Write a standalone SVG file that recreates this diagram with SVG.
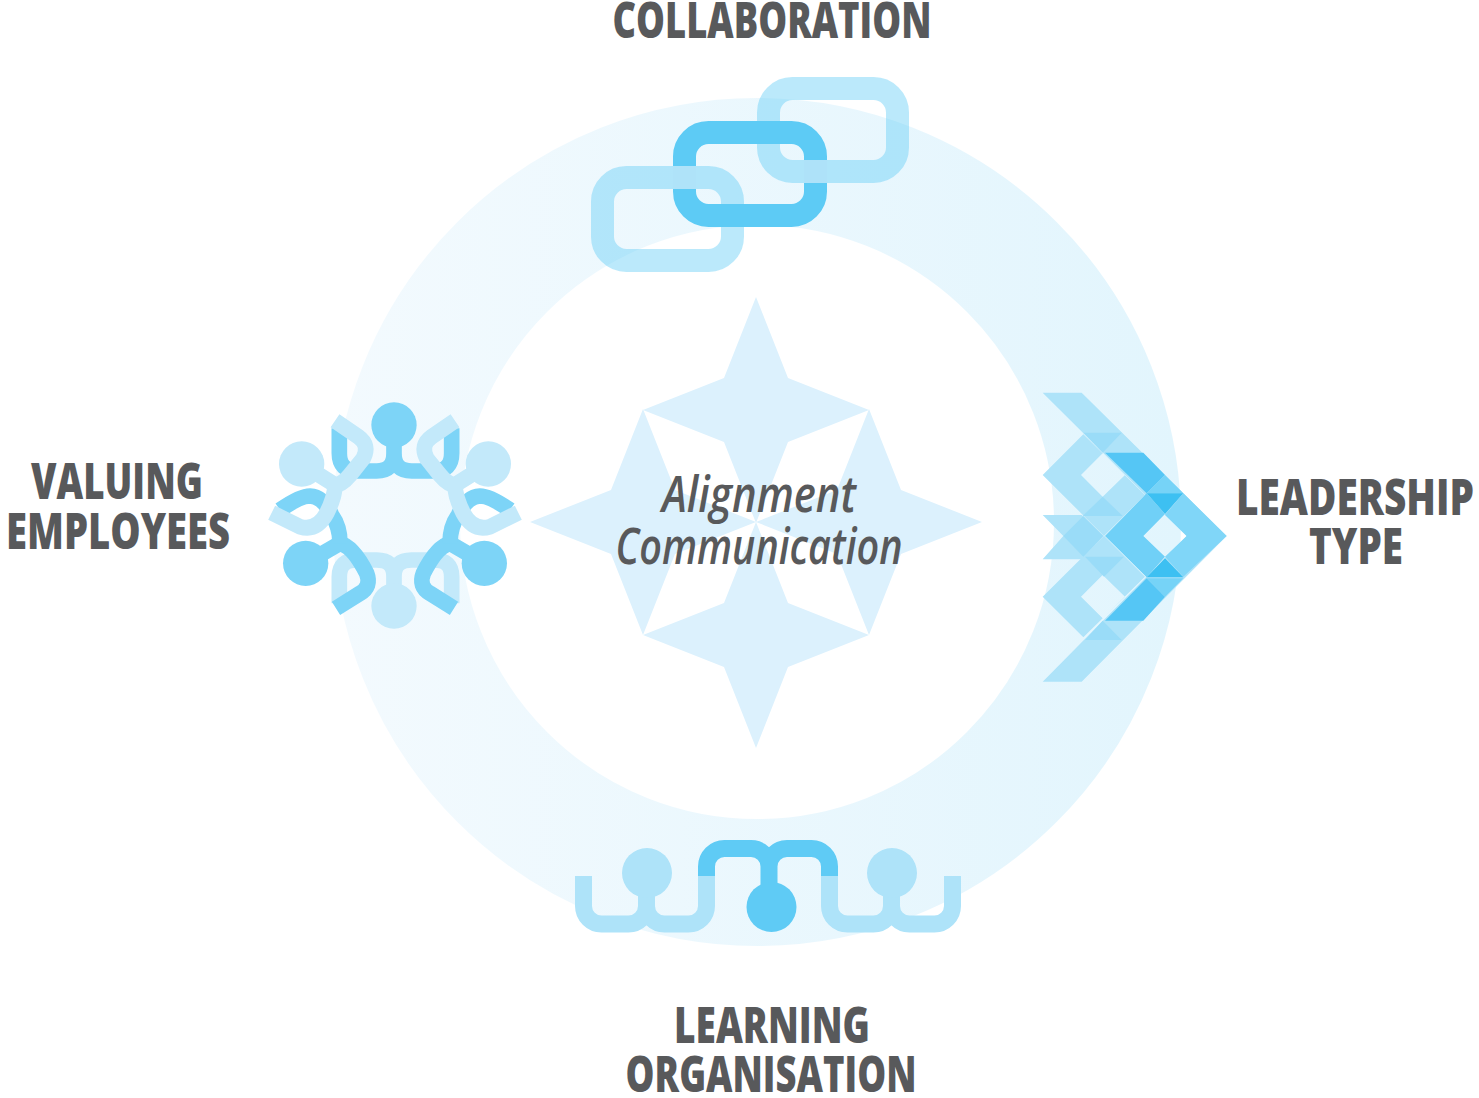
<svg xmlns="http://www.w3.org/2000/svg" xmlns:xlink="http://www.w3.org/1999/xlink" width="1479" height="1098" viewBox="0 0 1479 1098">
<style>
.lab{font-family:"Open Sans","Liberation Sans",sans-serif;font-weight:800;font-size:50px;fill:#58595B;text-anchor:middle}
.mid{font-family:"Open Sans","Liberation Sans",sans-serif;font-weight:600;font-style:italic;font-size:50px;fill:#58595B;text-anchor:middle}
.star{fill:#DCF1FD}
.lk{fill:none;stroke:#5CCBF5;stroke-opacity:.42;stroke-width:23}
.lb{fill:none;stroke:#AEE3F9;stroke-width:17}
.db{fill:none;stroke:#5FCBF5;stroke-width:17}
.pd{fill:none;stroke:#7DD4F7;stroke-width:47}
.pl{fill:none;stroke:#C3E9FA;stroke-width:47}
.a{fill:#AEE3F9}.b{fill:#9ADCF8}.c{fill:#55C6F5}.d{fill:#76D3F7}.e{fill:#3EC0F2}.f{fill:#80D6F8}.g{fill:#6FD0F7}
</style>
<defs>
<filter id="soft" filterUnits="userSpaceOnUse" x="0" y="0" width="1479" height="1098"><feGaussianBlur stdDeviation="0.7"/></filter>
<linearGradient id="ringGrad" gradientUnits="userSpaceOnUse" x1="335" y1="0" x2="1180" y2="0"><stop offset="0" stop-color="#F3FAFE"/><stop offset="1" stop-color="#E2F5FD"/></linearGradient>
<polygon id="s4" class="star" points="0,-113 32,-32 113,0 32,32 0,113 -32,32 -113,0 -32,-32"/>
<g id="ul"><path class="pl" d="M225 92L295 140Q330 165 310 205L270 255Q245 285 225 285L125 222"/><path class="pl" d="M225 285Q225 320 200 370Q170 425 120 410L35 368"/><circle cx="125" cy="222" r="68" fill="#C3E9FA"/></g>
<g id="ll"><path class="pd" d="M137 520L240 460Q280 470 320 550Q335 590 300 610L228 655"/><path class="pd" d="M240 460Q240 410 215 375Q190 320 150 318Q120 318 60 360"/><circle cx="137" cy="520" r="68" fill="#7DD4F7"/></g>
</defs>
<g id="ring"><circle cx="757" cy="522" r="360.5" fill="none" stroke="url(#ringGrad)" stroke-width="127"/></g>
<g id="centre-star">
<g filter="url(#soft)"><use xlink:href="#s4" href="#s4" x="756" y="410"/><use xlink:href="#s4" href="#s4" x="756" y="635"/><use xlink:href="#s4" href="#s4" x="643" y="522"/><use xlink:href="#s4" href="#s4" x="869" y="522"/></g>
<text class="mid" transform="translate(759 512) scale(.8 1)" textLength="242.5" lengthAdjust="spacingAndGlyphs">Alignment</text>
<text class="mid" transform="translate(759 564) scale(.8 1)" textLength="358.75" lengthAdjust="spacingAndGlyphs">Communication</text>
</g>
<g id="collaboration">
<g filter="url(#soft)">
<rect class="lk" x="602.5" y="177.5" width="130" height="83" rx="24"/>
<rect class="lk" x="768.5" y="88.5" width="129" height="83" rx="24"/>
<rect x="684.5" y="132.5" width="131" height="83" rx="24" fill="none" stroke="#5DCBF5" stroke-width="23"/>
<rect x="673" y="166" width="23" height="23" fill="#AFE3F9"/>
<rect x="804" y="160" width="23" height="23" fill="#AEE2F9"/>
</g>
<text class="lab" transform="translate(772 38) scale(.75 1)" textLength="425.3" lengthAdjust="spacingAndGlyphs">COLLABORATION</text>
</g>
<g id="valuing-employees">
<g filter="url(#soft)"><g transform="translate(260 390) scale(.33333)">
<path class="pl" d="M238 640V560Q238 510 290 510H350Q402 510 402 560V648M575 640V560Q575 510 523 510H455Q402 510 402 560"/>
<circle cx="402" cy="648" r="68" fill="#C3E9FA"/>
<path class="pd" d="M238 115V190Q238 243 290 243H350Q402 243 402 190V105M575 115V190Q575 243 523 243H455Q402 243 402 190"/>
<circle cx="402" cy="105" r="68" fill="#7DD4F7"/>
<use xlink:href="#ll" href="#ll"/><use xlink:href="#ll" href="#ll" transform="translate(810 0) scale(-1 1)"/>
<use xlink:href="#ul" href="#ul"/><use xlink:href="#ul" href="#ul" transform="translate(810 0) scale(-1 1)"/>
</g></g>
<text class="lab" transform="translate(117 499) scale(.75 1)" textLength="229.3" lengthAdjust="spacingAndGlyphs">VALUING</text>
<text class="lab" transform="translate(118 549) scale(.75 1)" textLength="298.7" lengthAdjust="spacingAndGlyphs">EMPLOYEES</text>
</g>
<g id="leadership-type">
<g filter="url(#soft)"><g transform="translate(1030 380) scale(.33333)">
<polygon class="a" points="38,38 155,38 590,468 155,905 38,905 470,468"/>
<path class="a" fill-rule="evenodd" d="M38 285L160 163L345 345L222 468ZM218 220L153 285L218 350L285 285Z"/>
<path class="a" fill-rule="evenodd" d="M38 650L160 772L345 590L222 467ZM218 715L153 650L218 585L285 650Z"/>
<polygon class="a" points="38,405 155,405 220,468 155,538 38,538 100,468"/>
<polygon class="b" points="160,158 275,158 218,218"/>
<polygon class="c" points="225,218 340,218 405,285 350,340"/>
<polygon class="d" points="405,285 460,340 350,340"/>
<polygon class="e" points="350,340 460,340 405,402"/>
<polygon class="f" points="460,340 590,468 460,590 405,530 470,468 405,405"/>
<polygon class="b" points="158,408 218,350 278,408"/>
<polygon class="g" points="350,340 405,402 340,468 405,530 350,592 225,468"/>
<polygon class="b" points="100,468 160,408 220,468 160,530"/>
<polygon class="b" points="165,530 282,530 222,590"/>
<polygon class="c" points="225,722 340,722 405,650 350,595"/>
<polygon class="d" points="350,595 460,595 405,650"/>
<polygon class="e" points="350,592 405,535 460,592"/>
<polygon class="b" points="165,780 275,780 218,722"/>
</g></g>
<text class="lab" transform="translate(1355 515) scale(.75 1)" textLength="317.3" lengthAdjust="spacingAndGlyphs">LEADERSHIP</text>
<text class="lab" transform="translate(1356 564) scale(.75 1)" textLength="125.3" lengthAdjust="spacingAndGlyphs">TYPE</text>
</g>
<g id="learning-organisation">
<g filter="url(#soft)">
<path class="lb" d="M583.5 876V906A18 18 0 0 0 601.5 924H628.5A18 18 0 0 0 646.5 906V873M646.5 906A18 18 0 0 0 664.5 924H688.5A18 18 0 0 0 706.5 906V876"/>
<circle cx="647" cy="873" r="25" fill="#AEE3F9"/>
<path class="lb" d="M829.5 876V906A18 18 0 0 0 847.5 924H873.5A18 18 0 0 0 891.5 906V873M891.5 906A18 18 0 0 0 909.5 924H934.5A18 18 0 0 0 952.5 906V876"/>
<circle cx="892" cy="873" r="25" fill="#AEE3F9"/>
<path class="db" d="M706.5 876V866.5A18 18 0 0 1 724.5 848.5H751A18 18 0 0 1 769 866.5V907M769 866.5A18 18 0 0 1 787 848.5H811.5A18 18 0 0 1 829.5 866.5V876"/>
<circle cx="771.5" cy="907" r="25" fill="#5FCBF5"/>
</g>
<text class="lab" transform="translate(772 1043) scale(.75 1)" textLength="261.3" lengthAdjust="spacingAndGlyphs">LEARNING</text>
<text class="lab" transform="translate(771 1092) scale(.75 1)" textLength="388" lengthAdjust="spacingAndGlyphs">ORGANISATION</text>
</g>
</svg>
